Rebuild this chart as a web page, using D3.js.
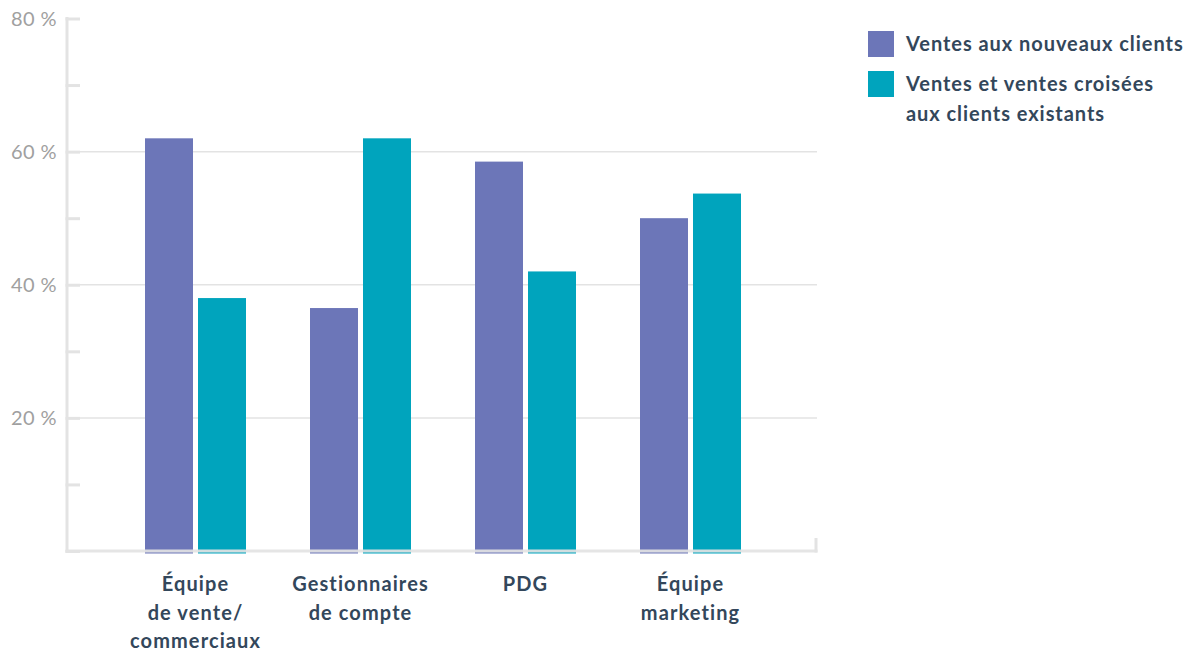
<!DOCTYPE html>
<html>
<head>
<meta charset="utf-8">
<script src="https://cdn.jsdelivr.net/npm/d3@7"></script>
<style>
  html, body { margin: 0; padding: 0; background: #fff; }
  svg { display: block; }
</style>
</head>
<body>
<svg id="chart" width="1197" height="652"></svg>
<script>
// ---- data ----
const categories = [
  ["Équipe", "de vente/", "commerciaux"],
  ["Gestionnaires", "de compte"],
  ["PDG"],
  ["Équipe", "marketing"]
];
const seriesNames = ["Ventes aux nouveaux clients", "Ventes et ventes croisées aux clients existants"];
const legendLines = [["Ventes aux nouveaux clients"], ["Ventes et ventes croisées", "aux clients existants"]];
const newClients = [62, 36.5, 58.5, 50];
const existingClients = [38, 62, 42, 53.7];
const yTicks = [20, 40, 60, 80];
const yMinorTicks = [0, 10, 20, 30, 40, 50, 60, 70, 80];
const colors = ["#6c76b8", "#00a4bd"];

const svg = d3.select("#chart");
const catKeys = categories.map((c, i) => i);

const y = d3.scaleLinear().domain([0, 80]).range([551, 18.5]);
const x0 = d3.scaleBand().domain(catKeys).range([113, 773]).paddingInner(64 / 165).paddingOuter(32 / 165);
const x1 = d3.scaleBand().domain([0, 1]).range([0, x0.bandwidth()]).paddingInner(5 / 53);

const axisColor = "#e3e3e3";
const left = 67, right = 816;

// gridlines
svg.append("g").selectAll("line").data(yTicks.filter(t => t < 80)).join("line")
  .attr("x1", left).attr("x2", right + 1)
  .attr("y1", d => y(d)).attr("y2", d => y(d))
  .attr("stroke", axisColor).attr("stroke-width", 1.5);

// bars
const seriesData = [newClients, existingClients];
const groups = svg.append("g").selectAll("g").data(catKeys).join("g")
  .attr("transform", i => `translate(${x0(i)},0)`);
groups.selectAll("rect.bar").data(i => seriesData.map((s, k) => ({ k, v: s[i] }))).join("rect")
  .attr("class", "bar")
  .attr("x", d => x1(d.k)).attr("width", x1.bandwidth())
  .attr("y", d => y(d.v)).attr("height", d => y(0) - y(d.v) + 2.5)
  .attr("fill", d => colors[d.k]);

// y axis (custom d3 axis styling)
const yAxis = d3.axisLeft(y).tickValues(yMinorTicks).tickSize(13).tickFormat("");
const yg = svg.append("g").attr("transform", `translate(${left + 13},0)`).call(yAxis);
yg.select(".domain").remove();
yg.selectAll(".tick line").attr("stroke", axisColor).attr("stroke-width", 3).attr("x1", 0).attr("x2", -14.5);

svg.append("line").attr("x1", left).attr("x2", left).attr("y1", y(80) - 1.5).attr("y2", y(0) + 1.5)
  .attr("stroke", axisColor).attr("stroke-width", 3);

// y labels
svg.append("g").selectAll("text").data(yTicks).join("text")
  .attr("x", 57).attr("y", d => y(d)).attr("dy", "0.35em")
  .attr("text-anchor", "end")
  .attr("font-family", "Lato, sans-serif").attr("font-size", 20).attr("font-weight", 400)
  .attr("letter-spacing", 0.4)
  .attr("fill", "#a0a0a0")
  .text(d => d + " %");

// x axis baseline
svg.append("line").attr("x1", left - 1.5).attr("x2", right + 1.5).attr("y1", y(0)).attr("y2", y(0))
  .attr("stroke", axisColor).attr("stroke-width", 3).attr("stroke-opacity", 0.92);
svg.append("line").attr("x1", right).attr("x2", right).attr("y1", y(0) - 13).attr("y2", y(0) + 1.5)
  .attr("stroke", axisColor).attr("stroke-width", 3);

// x labels
const xl = svg.append("g").selectAll("text").data(catKeys).join("text")
  .attr("text-anchor", "middle")
  .attr("font-family", "Lato, sans-serif").attr("font-size", 20).attr("font-weight", 700)
  .attr("letter-spacing", 1.1)
  .attr("fill", "#33475b")
  .attr("transform", i => `translate(${x0(i) + x0.bandwidth() / 2},591)`);
xl.selectAll("tspan").data(i => categories[i]).join("tspan")
  .attr("x", 0).attr("y", (d, j) => j * 28.5).text(d => d);

// legend
const lg = svg.append("g").selectAll("g").data(seriesNames).join("g")
  .attr("transform", (d, k) => `translate(868,${31 + k * 40})`);
lg.append("rect").attr("width", 26).attr("height", 26).attr("fill", (d, k) => colors[k]);
lg.append("text")
  .attr("font-family", "Lato, sans-serif").attr("font-size", 20).attr("font-weight", 700)
  .attr("letter-spacing", 0.95)
  .attr("fill", "#33475b")
  .selectAll("tspan").data((d, k) => legendLines[k]).join("tspan")
  .attr("x", 38).attr("y", (d, j) => 20 + j * 30).text(d => d);
</script>
</body>
</html>
